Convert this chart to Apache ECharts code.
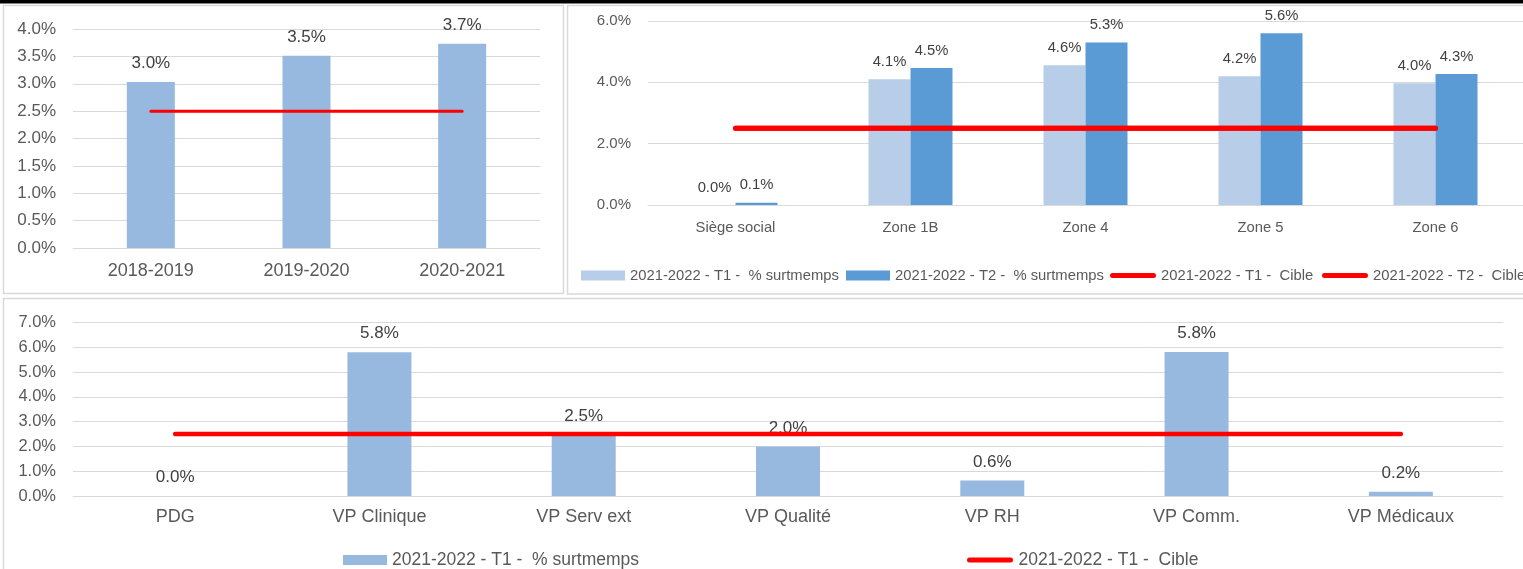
<!DOCTYPE html>
<html>
<head>
<meta charset="utf-8">
<script src="https://cdn.jsdelivr.net/npm/echarts@6/dist/echarts.min.js"></script>
<style>
  html, body { margin: 0; padding: 0; background: #ffffff; }
  #chart { width: 1523px; height: 569px; }
</style>
</head>
<body>
<div id="chart"></div>
<script>
// ---- Overtime rate per year ----
const yearCategories = ['2018-2019', '2019-2020', '2020-2021'];
const yearOvertime = [3.03, 3.51, 3.73];
const yearTarget = [2.5, 2.5, 2.5];
const yearTicks = [0, 0.5, 1, 1.5, 2, 2.5, 3, 3.5, 4];

// ---- Overtime per zone, quarters T1 / T2 ----
const zoneCategories = ['Siège social', 'Zone 1B', 'Zone 4', 'Zone 5', 'Zone 6'];
const zoneOvertimeT1 = [0.0, 4.1, 4.56, 4.2, 3.97];
const zoneOvertimeT2 = [0.07, 4.47, 5.3, 5.6, 4.27];
const zoneTargetT1 = [2.5, 2.5, 2.5, 2.5, 2.5];
const zoneTargetT2 = [2.5, 2.5, 2.5, 2.5, 2.5];
const zoneTicks = [0, 2, 4, 6];

// ---- Overtime per vice-presidency, T1 ----
const vpCategories = ['PDG', 'VP Clinique', 'VP Serv ext', 'VP Qualité', 'VP RH', 'VP Comm.', 'VP Médicaux'];
const vpOvertime = [0.0, 5.8, 2.46, 2.0, 0.63, 5.81, 0.17];
const vpTarget = [2.5, 2.5, 2.5, 2.5, 2.5, 2.5, 2.5];
const vpTicks = [0, 1, 2, 3, 4, 5, 6, 7];

// Series names
const NAME_T1 = '2021-2022 - T1 -  % surtmemps';
const NAME_T2 = '2021-2022 - T2 -  % surtmemps';
const NAME_C1 = '2021-2022 - T1 -  Cible';
const NAME_C2 = '2021-2022 - T2 -  Cible';

// Use a condensed face for the zone chart when one is installed
function fontAvailable(name) {
  const ctx = document.createElement('canvas').getContext('2d');
  const s = 'abcdefghijklmnopqrstuvwxyz0123456789%';
  ctx.font = '40px monospace';
  const w1 = ctx.measureText(s).width;
  ctx.font = '40px "' + name + '", monospace';
  const w2 = ctx.measureText(s).width;
  return Math.abs(w1 - w2) > 0.5;
}
const hasNarrow = fontAvailable('Liberation Sans Narrow');
const SANS = '"Liberation Sans", Arial, sans-serif';
const ZONE_FONT = hasNarrow ? '"Liberation Sans Narrow", "Liberation Sans", sans-serif' : SANS;
const ZONE_SIZE = hasNarrow ? 18 : 14.8;

const GRID_COLOR = '#D9D9D9';
const AXIS_TEXT = '#595959';
const LABEL_TEXT = '#404040';
const RED = '#FF0000';
const BAR_MID = '#97B9E0';
const BAR_LIGHT = '#B8CDE8';
const BAR_DARK = '#5B9BD5';

// capsule-shaped legend marker for the target lines
const LINE_ICON = 'path://M2.5,0 H43.5 A2.5,2.5 0 0 1 43.5,5 H2.5 A2.5,2.5 0 0 1 2.5,0 Z';

const pct = v => Number(v).toFixed(1) + '%';
const tickRange = t => ({ min: t[0], max: t[t.length - 1], interval: t[1] - t[0] });

function valueAxis(gridIndex, ticks, font, size) {
  return Object.assign({
    type: 'value',
    gridIndex: gridIndex,
    axisLine: { show: false },
    axisTick: { show: false },
    splitLine: { lineStyle: { color: GRID_COLOR, width: 1 } },
    axisLabel: {
      formatter: v => pct(v),
      color: AXIS_TEXT,
      fontFamily: font,
      fontSize: size,
      margin: 17
    }
  }, tickRange(ticks));
}

function categoryAxis(gridIndex, data, font, size, margin) {
  return {
    type: 'category',
    gridIndex: gridIndex,
    data: data,
    axisLine: { show: true, lineStyle: { color: GRID_COLOR, width: 1 } },
    axisTick: { show: false },
    axisLabel: { color: AXIS_TEXT, fontFamily: font, fontSize: size, margin: margin, interval: 0 }
  };
}

function barLabel(font, size) {
  return {
    show: true,
    position: 'top',
    distance: 10,
    formatter: p => pct(p.value),
    color: LABEL_TEXT,
    fontFamily: font,
    fontSize: size
  };
}

function targetLine(name, idx, data, width) {
  return {
    name: name,
    type: 'line',
    xAxisIndex: idx,
    yAxisIndex: idx,
    data: data,
    symbol: 'none',
    silent: true,
    z: 5,
    lineStyle: { color: RED, width: width, cap: 'round' },
    itemStyle: { color: RED }
  };
}

function legendBox(item, left, top, font, size, w, h) {
  return {
    data: [item], left: left, top: top, padding: 0,
    itemWidth: w, itemHeight: h, selectedMode: false,
    textStyle: { color: AXIS_TEXT, fontFamily: font, fontSize: size }
  };
}

const chart = echarts.init(document.getElementById('chart'), null, { renderer: 'canvas' });

const option = {
  animation: false,
  backgroundColor: '#ffffff',
  textStyle: { fontFamily: SANS },
  graphic: [
    // top rule
    { type: 'rect', shape: { x: 0, y: 0, width: 1523, height: 3.5 }, style: { fill: '#000000' }, silent: true },
    // panel frames
    { type: 'rect', shape: { x: 3.5, y: 5.5, width: 560, height: 288 }, style: { fill: null, stroke: GRID_COLOR, lineWidth: 1.5 }, silent: true },
    { type: 'rect', shape: { x: 567.5, y: 5.5, width: 970, height: 288.5 }, style: { fill: null, stroke: GRID_COLOR, lineWidth: 1.5 }, silent: true },
    { type: 'rect', shape: { x: 3.5, y: 298.5, width: 1540, height: 290 }, style: { fill: null, stroke: GRID_COLOR, lineWidth: 1.5 }, silent: true }
  ],
  grid: [
    { left: 73, top: 29, width: 467, height: 219 },
    { left: 648, top: 21, width: 875, height: 184 },
    { left: 73, top: 322.5, width: 1430, height: 173.5 }
  ],
  xAxis: [
    categoryAxis(0, yearCategories, SANS, 18, 14),
    categoryAxis(1, zoneCategories, ZONE_FONT, ZONE_SIZE, 15),
    categoryAxis(2, vpCategories, SANS, 18, 12)
  ],
  yAxis: [
    valueAxis(0, yearTicks, SANS, 17),
    valueAxis(1, zoneTicks, SANS, 15),
    valueAxis(2, vpTicks, SANS, 16.5)
  ],
  legend: [
    legendBox({ name: NAME_T1, icon: 'rect', itemStyle: { color: BAR_LIGHT } }, 581, 268, ZONE_FONT, ZONE_SIZE, 44, 10),
    legendBox({ name: NAME_T2, icon: 'rect', itemStyle: { color: BAR_DARK } }, 846, 268, ZONE_FONT, ZONE_SIZE, 44, 10),
    legendBox({ name: NAME_C1, icon: LINE_ICON, itemStyle: { color: RED } }, 1110, 268, ZONE_FONT, ZONE_SIZE, 46, 5),
    legendBox({ name: NAME_C2, icon: LINE_ICON, itemStyle: { color: RED } }, 1322, 268, ZONE_FONT, ZONE_SIZE, 46, 5),
    legendBox({ name: NAME_T1, icon: 'rect', itemStyle: { color: BAR_MID } }, 343, 551, SANS, 17.5, 44, 10),
    legendBox({ name: NAME_C1, icon: LINE_ICON, itemStyle: { color: RED } }, 967, 551, SANS, 17.5, 47, 5)
  ],
  series: [
    // yearly panel
    {
      name: '% surtemps annuel', type: 'bar', xAxisIndex: 0, yAxisIndex: 0,
      data: yearOvertime, barWidth: 48,
      itemStyle: { color: BAR_MID },
      label: barLabel(SANS, 17)
    },
    targetLine('Cible annuelle', 0, yearTarget, 3),

    // zone panel
    {
      name: NAME_T1, type: 'bar', xAxisIndex: 1, yAxisIndex: 1,
      data: zoneOvertimeT1, barWidth: 42, barGap: '0%',
      itemStyle: { color: BAR_LIGHT },
      label: barLabel(ZONE_FONT, ZONE_SIZE)
    },
    {
      name: NAME_T2, type: 'bar', xAxisIndex: 1, yAxisIndex: 1,
      data: zoneOvertimeT2, barWidth: 42, barGap: '0%',
      itemStyle: { color: BAR_DARK },
      label: barLabel(ZONE_FONT, ZONE_SIZE)
    },
    targetLine(NAME_C1, 1, zoneTargetT1, 5),
    targetLine(NAME_C2, 1, zoneTargetT2, 5),

    // vice-presidency panel
    {
      name: NAME_T1, type: 'bar', xAxisIndex: 2, yAxisIndex: 2,
      data: vpOvertime, barWidth: 64,
      itemStyle: { color: BAR_MID },
      label: barLabel(SANS, 17)
    },
    targetLine(NAME_C1, 2, vpTarget, 4.5)
  ]
};

chart.setOption(option);
</script>
</body>
</html>
